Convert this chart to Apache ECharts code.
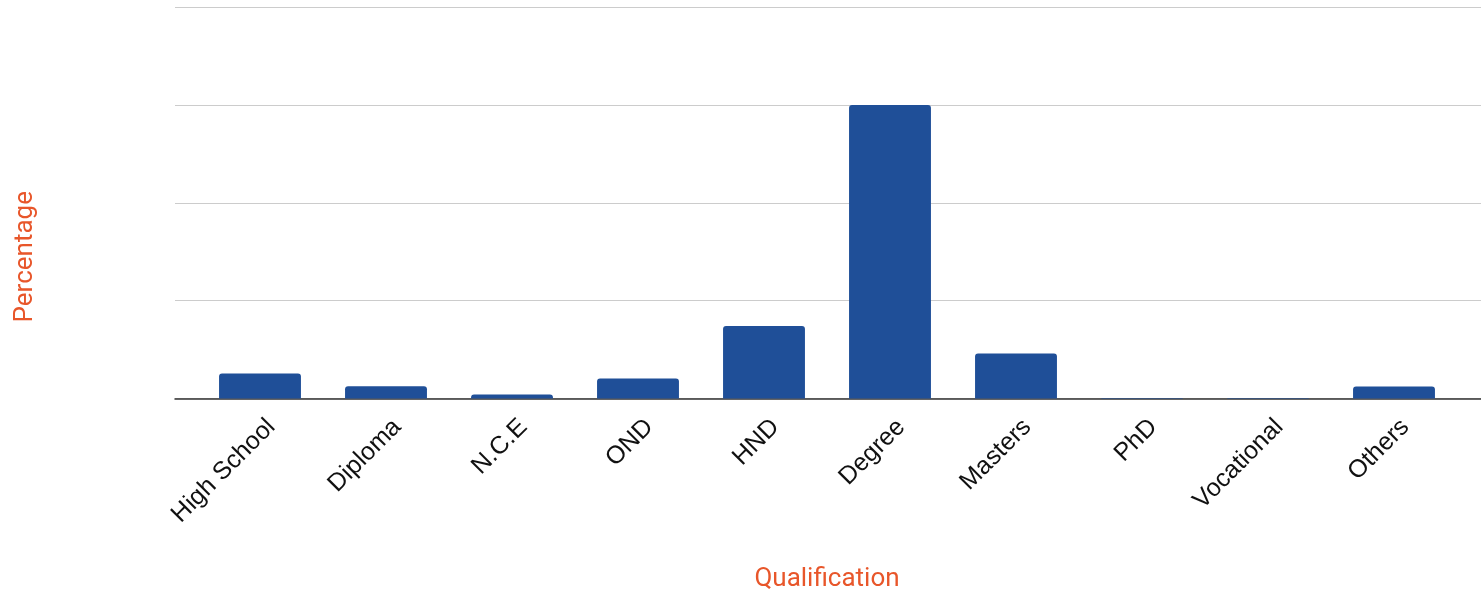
<!DOCTYPE html>
<html>
<head>
<meta charset="utf-8">
<script src="https://cdn.jsdelivr.net/npm/echarts@6/dist/echarts.min.js"></script>
<style>
html,body{margin:0;padding:0;background:#fff;}
#chart{width:1481px;height:591px;}
</style>
</head>
<body>
<div id="chart"></div>
<script>
const categories = ["High School","Diploma","N.C.E","OND","HND","Degree","Masters","PhD","Vocational","Others"];
const percentages = [5.1, 2.5, 0.8, 4.1, 14.8, 60.0, 9.2, 0.1, 0.1, 2.45];
const yMin = 0, yMax = 80, yStep = 20;

const chart = echarts.init(document.getElementById('chart'));
chart.setOption({
  backgroundColor: '#ffffff',
  animation: false,
  grid: [
    {left: 197, right: 24, top: 7, bottom: 192.5, outerBoundsMode: 'none', containLabel: false},
    {left: 175, right: 0, top: 7, bottom: 192.5, outerBoundsMode: 'none', containLabel: false}
  ],
  xAxis: [
    {
      type: 'category', gridIndex: 0, data: categories,
      axisLine: {show: false},
      axisTick: {show: false},
      axisLabel: {rotate: 45, fontSize: 25, fontFamily: 'Liberation Sans, Arial', color: '#111111',
                  margin: 36, interval: 0, padding: [0, -16, 0, 0]},
      name: 'Qualification', nameLocation: 'middle', nameGap: 168,
      nameTextStyle: {color: '#e8562a', fontSize: 26, fontFamily: 'Roboto'}
    },
    {
      type: 'value', gridIndex: 1, min: 0, max: 1,
      axisLine: {show: true, lineStyle: {color: '#333333', width: 1.5}},
      axisTick: {show: false}, axisLabel: {show: false}, splitLine: {show: false}
    }
  ],
  yAxis: [
    {
      type: 'value', gridIndex: 0, min: yMin, max: yMax, interval: yStep,
      axisLabel: {show: false}, axisLine: {show: false}, axisTick: {show: false},
      splitLine: {show: false},
      name: 'Percentage', nameLocation: 'middle', nameGap: 159,
      nameTextStyle: {color: '#e8562a', fontSize: 26, fontFamily: 'Roboto', padding: [0, 108, 0, 0]}
    },
    {
      type: 'value', gridIndex: 1, min: yMin, max: yMax, interval: yStep,
      axisLabel: {show: false}, axisLine: {show: false}, axisTick: {show: false},
      splitLine: {show: true, lineStyle: {color: '#cccccc', width: 1.2}}
    }
  ],
  series: [
    {
      type: 'bar', xAxisIndex: 0, yAxisIndex: 0, data: percentages,
      barWidth: '65%', z: 5,
      itemStyle: {color: '#1f4f98', borderRadius: [3,3,0,0]}
    }
  ]
});
</script>
</body>
</html>
